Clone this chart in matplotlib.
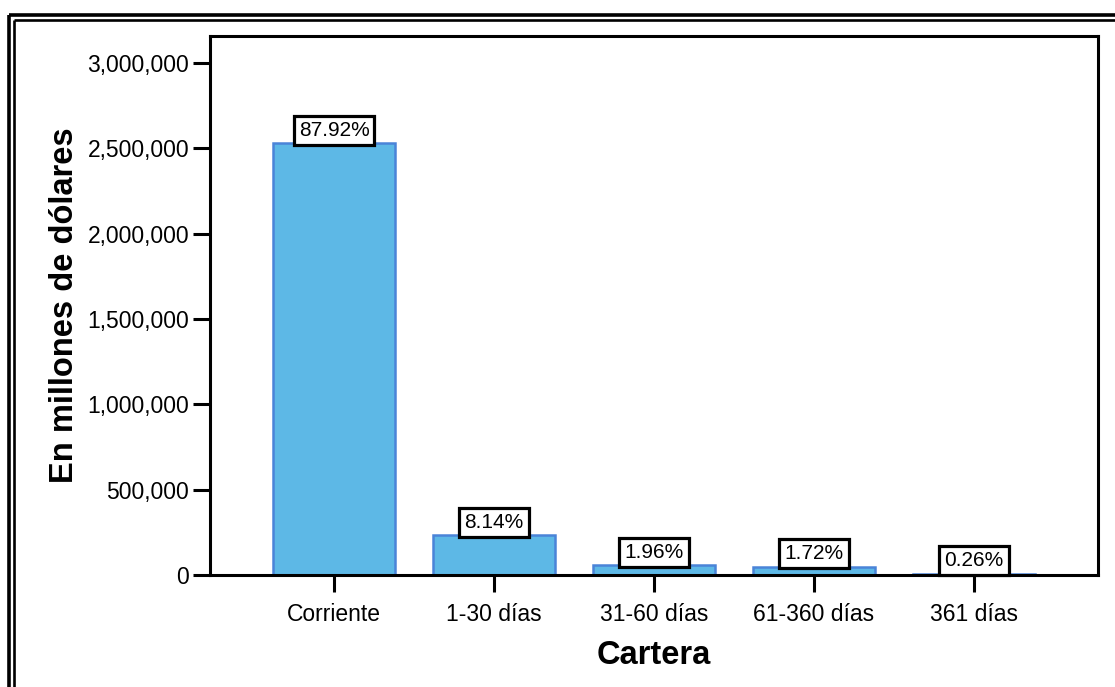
import matplotlib.pyplot as plt
from matplotlib.lines import Line2D
from matplotlib.ticker import FuncFormatter
import numpy as np

plt.rcParams['font.family'] = ['Liberation Sans', 'DejaVu Sans']

categorias = ['Corriente', '1-30 días', '31-60 días', '61-360 días', '361 días']
porcentajes = [87.92, 8.14, 1.96, 1.72, 0.26]
total = 2879000  # cartera total, millones de dólares
montos = [total * p / 100 for p in porcentajes]

fig = plt.figure(figsize=(11.15, 6.87), dpi=100)
ax = fig.add_axes([210 / 1115, 1 - 575 / 687, (1098 - 210) / 1115, (575 - 36) / 687])

x = np.arange(len(categorias))
ax.bar(x, montos, width=0.76, color='#5db8e6', edgecolor='#4a84d8', linewidth=1.8, zorder=2)

for xi, m, p in zip(x, montos, porcentajes):
    ax.annotate(f'{p:.2f}%', (xi, m), xytext=(0, 2.5), textcoords='offset points',
                ha='center', va='bottom', fontsize=15, zorder=3,
                bbox=dict(boxstyle='square,pad=0.24', fc='white', ec='black', lw=2.3))

ax.set_xlim(-0.775, 4.775)
ax.set_ylim(0, 3158000)
ax.set_yticks(np.arange(0, 3000001, 500000))
ax.yaxis.set_major_formatter(FuncFormatter(lambda v, pos: f'{int(v):,}'))
ax.set_xticks(x)
ax.set_xticklabels(categorias)
ax.tick_params(axis='both', length=12, width=2.2, labelsize=16.5, pad=3, color='black')
ax.tick_params(axis='x', pad=8)

for s in ax.spines.values():
    s.set_linewidth(2.2)

ax.set_ylabel('En millones de dólares', fontsize=23.5, fontweight='bold', labelpad=5)
ax.set_xlabel('Cartera', fontsize=23.5, fontweight='bold', labelpad=10)

# marco doble exterior
W, H = 1115, 687
def linea(xs, ys, lw):
    fig.add_artist(Line2D([v / W for v in xs], [1 - v / H for v in ys],
                          transform=fig.transFigure, color='black', lw=lw,
                          solid_capstyle='butt'))

linea([9.2, W], [15, 15], 2.6)
linea([9.2, 9.2], [15, H], 2.6)
linea([13.9, W], [19.7, 19.7], 1.9)
linea([13.9, 13.9], [19.7, H], 1.9)

fig.savefig('out.png', dpi=100)
